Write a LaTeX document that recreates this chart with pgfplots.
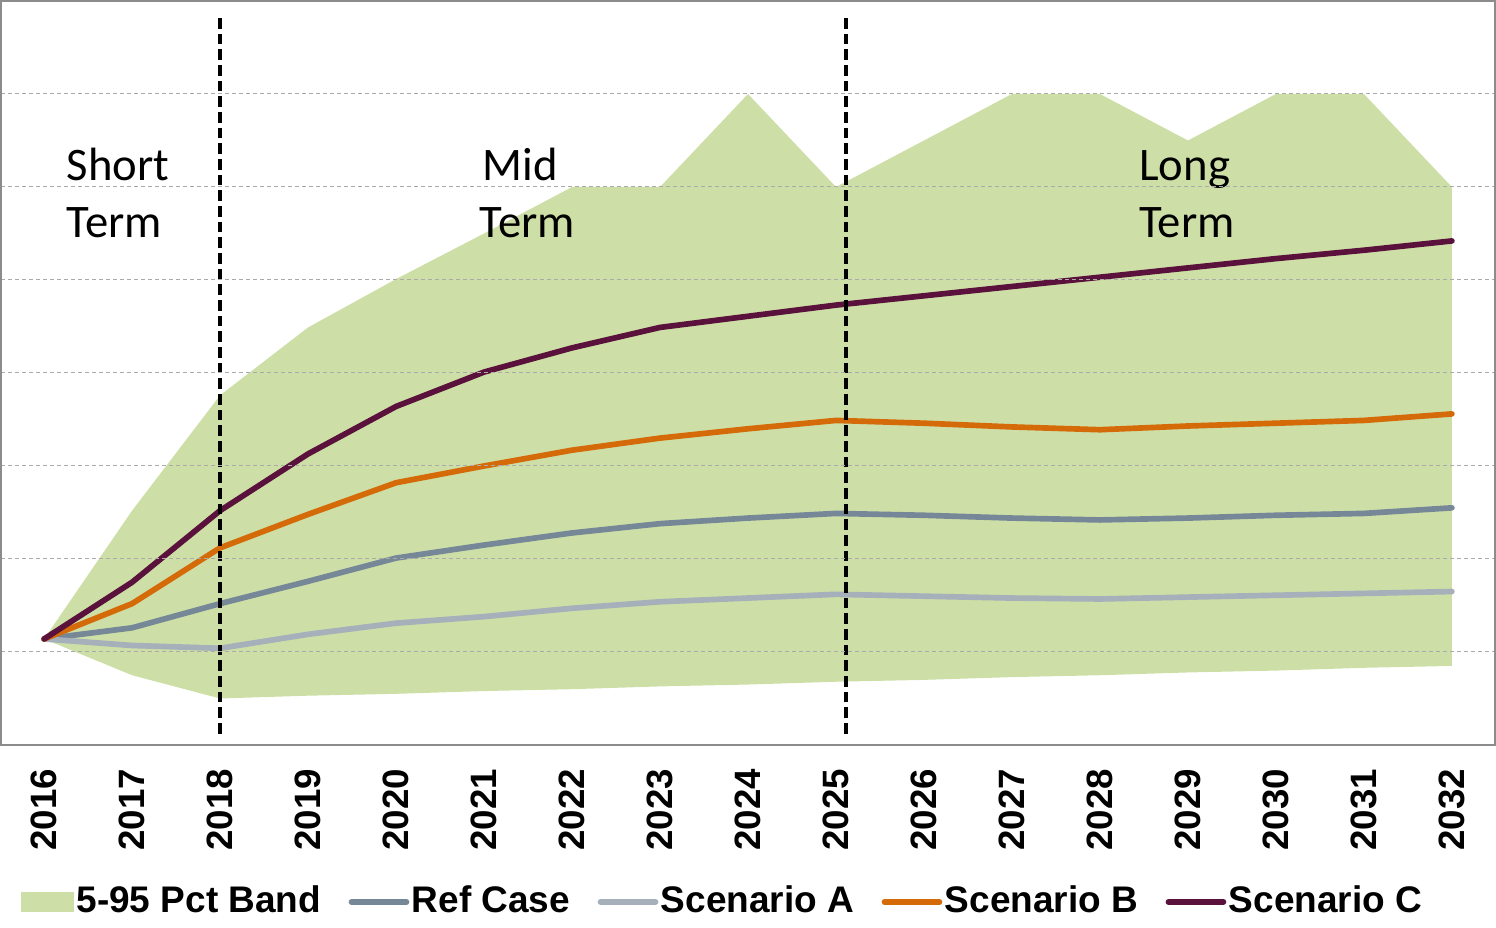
\documentclass[border=0pt]{standalone}
\usepackage{fontspec}
\setmainfont{Liberation Sans}
\newfontfamily\calibri{Carlito}
\usepackage{pgfplots}
\pgfplotsset{compat=1.18}
\definecolor{bandgreen}{RGB}{205,223,166}
\definecolor{refcase}{RGB}{118,136,152}
\definecolor{scenA}{RGB}{165,176,186}
\definecolor{scenB}{RGB}{212,107,8}
\definecolor{scenC}{RGB}{90,18,60}
\definecolor{framegray}{RGB}{140,140,140}
\definecolor{gridgray}{RGB}{170,170,170}

\begin{document}
\begin{tikzpicture}
\begin{axis}[
    width=448.2pt, height=223.2pt,
    scale only axis,
    xmin=2015.51, xmax=2032.49,
    ymin=0, ymax=8,
    xtick={2016,2017,...,2032},
    ytick={1,2,...,7},
    yticklabels={},
    yticklabel style={inner sep=0pt, overlay},
    major tick length=0pt,
    ymajorgrids,
    grid style={gridgray, line width=0.3pt, dash pattern=on 1.2pt off 0.9pt},
    axis line style={framegray, line width=0.6pt},
    axis on top,
    /pgf/number format/1000 sep={},
    /pgf/number format/assume math mode=true,
    xticklabel style={yshift=-7pt, rotate=90, anchor=east, inner sep=0pt,
        font=\fontsize{11}{13}\selectfont\bfseries},
    legend columns=-1,
    legend style={draw=none, fill=none, at={(0.483,-0.211)}, anchor=center,
        font=\fontsize{11.1}{13}\selectfont\bfseries,
        nodes={inner sep=0.75pt},
        /tikz/every even column/.append style={column sep=7.5pt}},
    legend image code/.code={\draw[#1] (0pt,0pt) -- (16.5pt,0pt);},
]
% 5-95 percentile band: upper edge forward, lower edge back
\addplot[fill=bandgreen, draw=none,
    legend image code/.code={\fill[bandgreen] (0pt,-2.9pt) rectangle (16pt,2.9pt);}]
coordinates {
    (2016,1.14) (2017,2.52) (2018,3.76) (2019,4.49) (2020,5.01) (2021,5.50)
    (2022,6.00) (2023,6.00) (2024,7.00) (2025,6.00) (2026,6.50) (2027,7.00)
    (2028,7.00) (2029,6.50) (2030,7.00) (2031,7.00) (2032,6.00)
    (2032,0.85) (2031,0.83) (2030,0.80) (2029,0.78) (2028,0.75) (2027,0.73)
    (2026,0.70) (2025,0.68) (2024,0.65) (2023,0.63) (2022,0.60) (2021,0.58)
    (2020,0.55) (2019,0.53) (2018,0.50) (2017,0.75) (2016,1.14)
} -- cycle;
\addlegendentry{5-95 Pct Band}

\addplot[refcase, line width=1.7pt, line cap=round, line join=round] coordinates {
    (2016,1.14) (2017,1.26) (2018,1.52) (2019,1.76) (2020,2.01) (2021,2.15)
    (2022,2.28) (2023,2.38) (2024,2.44) (2025,2.49) (2026,2.47) (2027,2.44)
    (2028,2.42) (2029,2.44) (2030,2.47) (2031,2.49) (2032,2.55)
};
\addlegendentry{Ref Case}

\addplot[scenA, line width=1.7pt, line cap=round, line join=round] coordinates {
    (2016,1.14) (2017,1.07) (2018,1.04) (2019,1.19) (2020,1.31) (2021,1.38)
    (2022,1.47) (2023,1.54) (2024,1.58) (2025,1.62) (2026,1.60) (2027,1.58)
    (2028,1.57) (2029,1.59) (2030,1.61) (2031,1.63) (2032,1.65)
};
\addlegendentry{Scenario A}

\addplot[scenB, line width=1.7pt, line cap=round, line join=round] coordinates {
    (2016,1.14) (2017,1.52) (2018,2.12) (2019,2.48) (2020,2.82) (2021,3.00)
    (2022,3.17) (2023,3.30) (2024,3.40) (2025,3.49) (2026,3.46) (2027,3.42)
    (2028,3.39) (2029,3.43) (2030,3.46) (2031,3.49) (2032,3.56)
};
\addlegendentry{Scenario B}

\addplot[scenC, line width=1.7pt, line cap=round, line join=round] coordinates {
    (2016,1.14) (2017,1.75) (2018,2.52) (2019,3.13) (2020,3.64) (2021,4.01)
    (2022,4.27) (2023,4.49) (2024,4.61) (2025,4.73) (2026,4.83) (2027,4.93)
    (2028,5.03) (2029,5.13) (2030,5.23) (2031,5.32) (2032,5.42)
};
\addlegendentry{Scenario C}

% term boundaries
\addplot[forget plot, black, line width=1.3pt, dash pattern=on 3.2pt off 1.5pt]
    coordinates {(2018,0.12) (2018,7.83)};
\addplot[forget plot, black, line width=1.3pt, dash pattern=on 3.2pt off 1.5pt]
    coordinates {(2025.11,0.12) (2025.11,7.83)};

\node[anchor=base west, inner sep=0pt, font=\calibri\fontsize{14}{16}\selectfont]
    at (axis cs:2016.25,6.065) {Short};
\node[anchor=base west, inner sep=0pt, font=\calibri\fontsize{14}{16}\selectfont]
    at (axis cs:2016.25,5.46) {Term};
\node[anchor=base west, inner sep=0pt, font=\calibri\fontsize{14}{16}\selectfont]
    at (axis cs:2020.98,6.065) {Mid};
\node[anchor=base west, inner sep=0pt, font=\calibri\fontsize{14}{16}\selectfont]
    at (axis cs:2020.94,5.46) {Term};
\node[anchor=base west, inner sep=0pt, font=\calibri\fontsize{14}{16}\selectfont]
    at (axis cs:2028.44,6.065) {Long};
\node[anchor=base west, inner sep=0pt, font=\calibri\fontsize{14}{16}\selectfont]
    at (axis cs:2028.44,5.46) {Term};
\end{axis}
\end{tikzpicture}
\end{document}
